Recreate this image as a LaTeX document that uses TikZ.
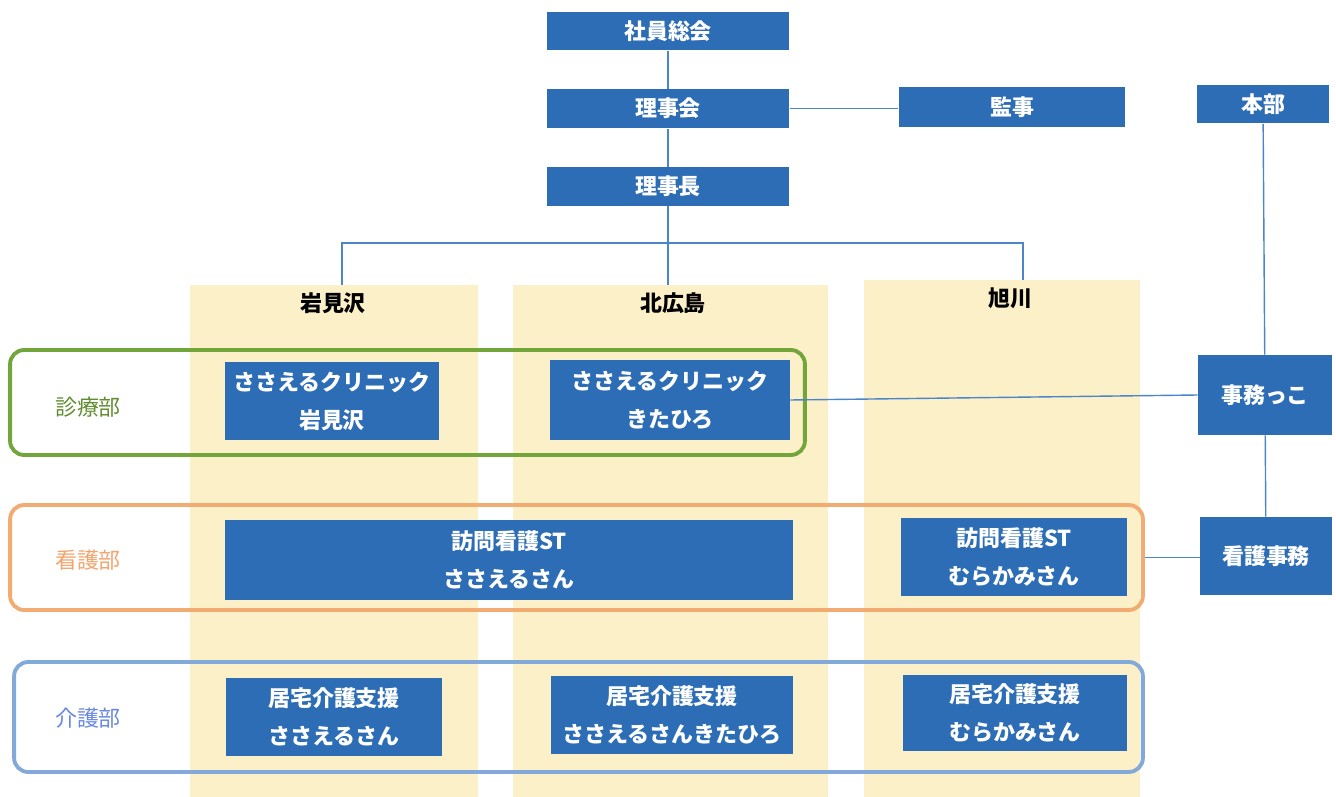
\documentclass[tikz,border=0pt]{standalone}
\usepackage{fontspec}
\setmainfont{Noto Sans CJK JP}
\usetikzlibrary{positioning}

\definecolor{boxblue}{RGB}{45,109,181}
\definecolor{lineblue}{RGB}{74,134,200}
\definecolor{colyellow}{RGB}{252,240,200}
\definecolor{greenframe}{RGB}{114,165,58}
\definecolor{orangeframe}{RGB}{242,172,114}
\definecolor{blueframe}{RGB}{130,169,218}

\begin{document}
\begin{tikzpicture}[
  x=0.02cm, y=-0.02cm,
  node distance=0.76cm,
  every node/.style={font=\fontsize{12.5}{21.5}\selectfont},
  box/.style={fill=boxblue, text=white, font=\bfseries\fontsize{12.5}{21.5}\selectfont,
    align=center, inner sep=0pt, minimum width=4.86cm, minimum height=0.78cm},
  col/.style={fill=colyellow},
  frame/.style={line width=2.2pt, rounded corners=8pt, inner sep=0pt},
  dept/.style={font=\fontsize{12.5}{15}\selectfont},
  title/.style={font=\bfseries\fontsize{12.5}{15}\selectfont},
  line/.style={draw=lineblue, line width=0.8pt}
]
\useasboundingbox (0,0) rectangle (1336,797);

% Columns
\fill[col] (190,285) rectangle (478,797);
\fill[col] (513,285) rectangle (828,797);
\fill[col] (864,280) rectangle (1140,797);
\coordinate (iwacol) at (342,285);
\coordinate (kitacol) at (668,285);
\coordinate (asacol) at (1023,280);

\node[title] (iwa)  at (333,303) {岩見沢};
\node[title] (kita) at (673,303) {北広島};
\node[title] (asa)  at (1010,298) {旭川};

% Nodes
\node[box] (soukai) at (668,31) {社員総会};
\node[box] (rijikai) [below=of soukai] {理事会};
\node[box] (rijicho) [below=of rijikai] {理事長};
\node[box, minimum width=4.54cm, minimum height=0.80cm] (kanji) at (1012,107) {監事};
\node[box, minimum width=2.66cm] (honbu) at (1263,104) {本部};

\node[box, minimum width=4.30cm, minimum height=1.56cm] (cliniwa) at (332,401) {ささえるクリニック\\岩見沢};
\node[box, minimum width=4.80cm, minimum height=1.60cm] (clinkita) at (670,400) {ささえるクリニック\\きたひろ};
\node[box, minimum width=2.68cm, minimum height=1.60cm] (jimukko) at (1265,395) {事務っこ};

\node[box, minimum width=11.36cm, minimum height=1.60cm] (houmon) at (509,560) {訪問看護ST\\ささえるさん};
\node[box, minimum width=4.52cm, minimum height=1.58cm] (houmura) at (1014,557) {訪問看護ST\\むらかみさん};
\node[box, minimum width=2.64cm, minimum height=1.56cm] (kangojimu) at (1266,556) {看護事務};

\node[box, minimum width=4.32cm, minimum height=1.56cm] (kyoiwa) at (334,717) {居宅介護支援\\ささえるさん};
\node[box, minimum width=4.84cm, minimum height=1.58cm] (kyokita) at (672,715) {居宅介護支援\\ささえるさんきたひろ};
\node[box, minimum width=4.48cm, minimum height=1.54cm] (kyomura) at (1015,713) {居宅介護支援\\むらかみさん};

% Frames
\node[frame, draw=greenframe, minimum width=15.90cm, minimum height=2.10cm] (shinryo) at (407.5,402.5) {};
\node[frame, draw=orangeframe, minimum width=22.66cm, minimum height=2.10cm] (kango) at (576.5,557.5) {};
\node[frame, draw=blueframe, minimum width=22.58cm, minimum height=2.20cm] (kaigo) at (578.5,717) {};

\node[dept, text=greenframe!85!black] (shinryolab) at (88,407) {診療部};
\node[dept, text=orangeframe!95!red] (kangolab) at (88,560) {看護部};
\node[dept, text=blueframe!80!blue] (kaigolab) at (88,718) {介護部};

% Lines
\coordinate (branch) at (668,243);
\draw[line] (soukai) -- (rijikai);
\draw[line] (rijikai) -- (rijicho);
\draw[line] (rijikai.east) -- (rijikai.east -| kanji.west);
\draw[line] (rijicho) -- (branch);
\draw[line] (iwacol) |- (branch) -| (asacol);
\draw[line] (branch) -- (kitacol);

\draw[line] (honbu) -- (jimukko);
\draw[line] (jimukko) -- (kangojimu);
\draw[line] (clinkita.east) -- (jimukko.west);
\draw[line] (kango.east) -- (kango.east -| kangojimu.west);

\end{tikzpicture}
\end{document}
